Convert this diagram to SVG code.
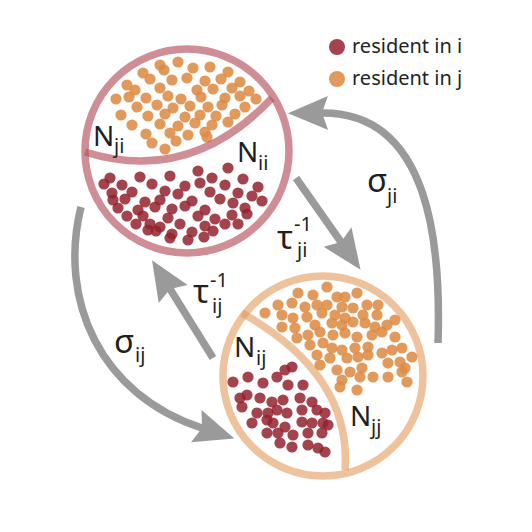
<svg xmlns="http://www.w3.org/2000/svg" width="532" height="532" viewBox="0 0 532 532">
<style>
text{font-family:"Noto Sans","Open Sans","DejaVu Sans",sans-serif;fill:#231F20}
.main{font-size:28px}
.gr{font-size:33px}
.sub{font-size:20px}
.o{fill:#DD8B45;fill-opacity:.88;r:5.6px}
.r{fill:#93222E;fill-opacity:.85;r:5.6px}
.ringi{fill:none;stroke:#B5525C;stroke-opacity:.65;stroke-width:7.5}
.ringj{fill:none;stroke:#E19A5A;stroke-opacity:.6;stroke-width:7.5}
.leg{font-size:20px}
</style>
<defs>
<marker id="ah" markerUnits="userSpaceOnUse" markerWidth="44" markerHeight="36" refX="6" refY="17" orient="auto" overflow="visible">
<polygon points="0,0 40,17 0,34 6,17" fill="#9A9A9A"/>
</marker>
</defs>
<rect width="532" height="532" fill="#fff"/>

<g id="connectors" fill="none" stroke="#9A9A9A" stroke-width="7.5" marker-end="url(#ah)">
<path id="sigma-ij" d="M81,207 C58,300 100,395 202,428"/>
<path id="tau-ij" d="M213,358 L170,289"/>
<path id="tau-ji" d="M296,178 L341,242"/>
<path id="sigma-ji" d="M438,343 C441,250 432,112 322,113"/>
</g>
<g id="connector-labels">
<text><tspan class="gr" x="114" y="353">σ</tspan><tspan class="sub" x="135" y="362">ij</tspan></text>
<text><tspan class="gr" x="193" y="303">τ</tspan><tspan class="sub" x="210" y="287">-1</tspan><tspan class="sub" x="212" y="313">ij</tspan></text>
<text><tspan class="gr" x="277" y="249">τ</tspan><tspan class="sub" x="294" y="231">-1</tspan><tspan class="sub" x="297" y="257">ji</tspan></text>
<text><tspan class="gr" x="367" y="192">σ</tspan><tspan class="sub" x="387" y="203">ji</tspan></text>
</g>

<g id="patch-i">
<g id="dots-ji">
<circle class="o" cx="160" cy="65"/><circle class="o" cx="178" cy="62"/>
<circle class="o" cx="143" cy="73"/><circle class="o" cx="164" cy="70"/><circle class="o" cx="193" cy="68"/><circle class="o" cx="210" cy="67"/><circle class="o" cx="228" cy="72"/>
<circle class="o" cx="127" cy="85"/><circle class="o" cx="150" cy="79"/><circle class="o" cx="172" cy="80"/><circle class="o" cx="187" cy="78"/><circle class="o" cx="205" cy="81"/><circle class="o" cx="221" cy="79"/><circle class="o" cx="240" cy="82"/>
<circle class="o" cx="135" cy="90"/><circle class="o" cx="160" cy="88"/><circle class="o" cx="197" cy="90"/><circle class="o" cx="213" cy="89"/><circle class="o" cx="232" cy="88"/><circle class="o" cx="249" cy="91"/>
<circle class="o" cx="116" cy="99"/><circle class="o" cx="129" cy="97"/><circle class="o" cx="146" cy="98"/><circle class="o" cx="168" cy="96"/><circle class="o" cx="181" cy="99"/><circle class="o" cx="201" cy="97"/><circle class="o" cx="225" cy="98"/><circle class="o" cx="240" cy="96"/><circle class="o" cx="256" cy="99"/>
<circle class="o" cx="137" cy="107"/><circle class="o" cx="157" cy="105"/><circle class="o" cx="173" cy="108"/><circle class="o" cx="190" cy="106"/><circle class="o" cx="208" cy="107"/><circle class="o" cx="222" cy="105"/><circle class="o" cx="245" cy="107"/>
<circle class="o" cx="121" cy="115"/><circle class="o" cx="148" cy="116"/><circle class="o" cx="165" cy="114"/><circle class="o" cx="185" cy="117"/><circle class="o" cx="200" cy="115"/><circle class="o" cx="216" cy="116"/><circle class="o" cx="235" cy="114"/>
<circle class="o" cx="132" cy="125"/><circle class="o" cx="160" cy="124"/><circle class="o" cx="178" cy="126"/><circle class="o" cx="195" cy="123"/><circle class="o" cx="212" cy="125"/><circle class="o" cx="228" cy="122"/>
<circle class="o" cx="146" cy="134"/><circle class="o" cx="170" cy="133"/><circle class="o" cx="188" cy="135"/><circle class="o" cx="205" cy="132"/>
<circle class="o" cx="152" cy="143"/><circle class="o" cx="176" cy="141"/><circle class="o" cx="207" cy="137"/>
<circle class="o" cx="165" cy="149"/>
</g>
<g id="dots-ii">
<circle class="r" cx="198" cy="171"/><circle class="r" cx="228" cy="168"/>
<circle class="r" cx="110" cy="178"/><circle class="r" cx="140" cy="177"/><circle class="r" cx="170" cy="176"/><circle class="r" cx="212" cy="178"/><circle class="r" cx="243" cy="179"/>
<circle class="r" cx="104" cy="184"/><circle class="r" cx="122" cy="185"/><circle class="r" cx="152" cy="184"/><circle class="r" cx="185" cy="186"/><circle class="r" cx="200" cy="183"/><circle class="r" cx="225" cy="185"/><circle class="r" cx="258" cy="187"/>
<circle class="r" cx="112" cy="193"/><circle class="r" cx="132" cy="192"/><circle class="r" cx="165" cy="191"/><circle class="r" cx="178" cy="194"/><circle class="r" cx="210" cy="192"/><circle class="r" cx="238" cy="193"/><circle class="r" cx="252" cy="196"/>
<circle class="r" cx="113" cy="200"/><circle class="r" cx="125" cy="199"/><circle class="r" cx="145" cy="202"/><circle class="r" cx="160" cy="200"/><circle class="r" cx="192" cy="201"/><circle class="r" cx="220" cy="199"/><circle class="r" cx="233" cy="203"/><circle class="r" cx="262" cy="201"/>
<circle class="r" cx="118" cy="208"/><circle class="r" cx="138" cy="210"/><circle class="r" cx="155" cy="207"/><circle class="r" cx="172" cy="209"/><circle class="r" cx="185" cy="206"/><circle class="r" cx="205" cy="210"/><circle class="r" cx="245" cy="208"/>
<circle class="r" cx="127" cy="216"/><circle class="r" cx="143" cy="216"/><circle class="r" cx="168" cy="218"/><circle class="r" cx="198" cy="216"/><circle class="r" cx="215" cy="219"/><circle class="r" cx="232" cy="215"/><circle class="r" cx="247" cy="214"/>
<circle class="r" cx="136" cy="224"/><circle class="r" cx="150" cy="224"/><circle class="r" cx="160" cy="227"/><circle class="r" cx="180" cy="224"/><circle class="r" cx="205" cy="226"/><circle class="r" cx="225" cy="224"/><circle class="r" cx="238" cy="224"/>
<circle class="r" cx="148" cy="230"/><circle class="r" cx="156" cy="231"/><circle class="r" cx="172" cy="234"/><circle class="r" cx="192" cy="232"/><circle class="r" cx="213" cy="231"/>
<circle class="r" cx="170" cy="238"/><circle class="r" cx="188" cy="240"/><circle class="r" cx="204" cy="237"/>
</g>
<circle class="ringi" cx="187" cy="151" r="102"/>
<path class="ringi" d="M85,152 Q190,185 272,98"/>
<text><tspan class="main" x="93" y="146">N</tspan><tspan class="sub" x="114" y="153">ji</tspan></text>
<text><tspan class="main" x="237" y="162">N</tspan><tspan class="sub" x="258" y="170">ii</tspan></text>
</g>

<g id="patch-j">
<g id="dots-jj">
<circle class="o" cx="327" cy="287"/><circle class="o" cx="298" cy="293"/><circle class="o" cx="313" cy="295"/><circle class="o" cx="337" cy="297"/><circle class="o" cx="345" cy="297"/><circle class="o" cx="357" cy="293"/>
<circle class="o" cx="278" cy="305"/><circle class="o" cx="292" cy="303"/><circle class="o" cx="305" cy="307"/><circle class="o" cx="317" cy="305"/><circle class="o" cx="327" cy="305"/><circle class="o" cx="342" cy="307"/><circle class="o" cx="353" cy="308"/><circle class="o" cx="367" cy="305"/><circle class="o" cx="378" cy="305"/>
<circle class="o" cx="265" cy="313"/><circle class="o" cx="282" cy="315"/><circle class="o" cx="293" cy="318"/><circle class="o" cx="307" cy="317"/><circle class="o" cx="322" cy="313"/><circle class="o" cx="335" cy="315"/><circle class="o" cx="345" cy="318"/><circle class="o" cx="363" cy="315"/><circle class="o" cx="377" cy="315"/>
<circle class="o" cx="282" cy="327"/><circle class="o" cx="295" cy="328"/><circle class="o" cx="315" cy="325"/><circle class="o" cx="332" cy="323"/><circle class="o" cx="342" cy="325"/><circle class="o" cx="353" cy="322"/><circle class="o" cx="365" cy="323"/><circle class="o" cx="375" cy="327"/><circle class="o" cx="387" cy="325"/><circle class="o" cx="395" cy="320"/>
<circle class="o" cx="297" cy="338"/><circle class="o" cx="308" cy="335"/><circle class="o" cx="320" cy="332"/><circle class="o" cx="333" cy="335"/><circle class="o" cx="345" cy="333"/><circle class="o" cx="357" cy="337"/><circle class="o" cx="372" cy="335"/><circle class="o" cx="382" cy="332"/><circle class="o" cx="395" cy="337"/>
<circle class="o" cx="310" cy="345"/><circle class="o" cx="323" cy="343"/><circle class="o" cx="332" cy="348"/><circle class="o" cx="342" cy="350"/><circle class="o" cx="355" cy="348"/><circle class="o" cx="368" cy="347"/><circle class="o" cx="382" cy="353"/><circle class="o" cx="392" cy="350"/><circle class="o" cx="402" cy="348"/><circle class="o" cx="412" cy="357"/>
<circle class="o" cx="317" cy="355"/><circle class="o" cx="330" cy="358"/><circle class="o" cx="347" cy="358"/><circle class="o" cx="358" cy="357"/><circle class="o" cx="368" cy="355"/><circle class="o" cx="388" cy="363"/><circle class="o" cx="400" cy="362"/><circle class="o" cx="405" cy="368"/>
<circle class="o" cx="320" cy="365"/><circle class="o" cx="337" cy="370"/><circle class="o" cx="350" cy="372"/><circle class="o" cx="362" cy="368"/><circle class="o" cx="373" cy="377"/><circle class="o" cx="388" cy="377"/><circle class="o" cx="402" cy="372"/><circle class="o" cx="407" cy="382"/>
<circle class="o" cx="342" cy="380"/><circle class="o" cx="340" cy="387"/><circle class="o" cx="357" cy="390"/><circle class="o" cx="360" cy="377"/>
</g>
<g id="dots-ij">
<circle class="r" cx="233" cy="382"/><circle class="r" cx="248" cy="377"/><circle class="r" cx="263" cy="383"/><circle class="r" cx="277" cy="377"/><circle class="r" cx="285" cy="370"/><circle class="r" cx="292" cy="367"/><circle class="r" cx="288" cy="385"/><circle class="r" cx="303" cy="385"/>
<circle class="r" cx="240" cy="398"/><circle class="r" cx="247" cy="395"/><circle class="r" cx="260" cy="398"/><circle class="r" cx="272" cy="402"/><circle class="r" cx="283" cy="400"/><circle class="r" cx="300" cy="398"/><circle class="r" cx="312" cy="402"/>
<circle class="r" cx="242" cy="407"/><circle class="r" cx="257" cy="413"/><circle class="r" cx="268" cy="413"/><circle class="r" cx="277" cy="410"/><circle class="r" cx="287" cy="413"/><circle class="r" cx="302" cy="410"/><circle class="r" cx="317" cy="410"/><circle class="r" cx="325" cy="413"/>
<circle class="r" cx="252" cy="423"/><circle class="r" cx="267" cy="420"/><circle class="r" cx="273" cy="423"/><circle class="r" cx="285" cy="427"/><circle class="r" cx="302" cy="422"/><circle class="r" cx="312" cy="423"/><circle class="r" cx="323" cy="423"/><circle class="r" cx="328" cy="425"/>
<circle class="r" cx="267" cy="433"/><circle class="r" cx="278" cy="433"/><circle class="r" cx="293" cy="435"/><circle class="r" cx="308" cy="433"/><circle class="r" cx="322" cy="433"/>
<circle class="r" cx="280" cy="443"/><circle class="r" cx="292" cy="447"/><circle class="r" cx="308" cy="445"/><circle class="r" cx="318" cy="448"/><circle class="r" cx="325" cy="452"/>
</g>
<circle class="ringj" cx="323" cy="376" r="100"/>
<path class="ringj" d="M242,313 Q352,375 345,470"/>
<text><tspan class="main" x="234" y="357">N</tspan><tspan class="sub" x="256" y="365">ij</tspan></text>
<text><tspan class="main" x="350" y="426">N</tspan><tspan class="sub" x="371" y="434">jj</tspan></text>
</g>

<g id="legend">
<circle cx="337" cy="47" r="8" fill="#93222E" fill-opacity=".85"/>
<text class="leg" x="352" y="53">resident in i</text>
<circle cx="337" cy="79" r="8" fill="#DD8B45" fill-opacity=".88"/>
<text class="leg" x="352" y="85">resident in j</text>
</g>
</svg>
